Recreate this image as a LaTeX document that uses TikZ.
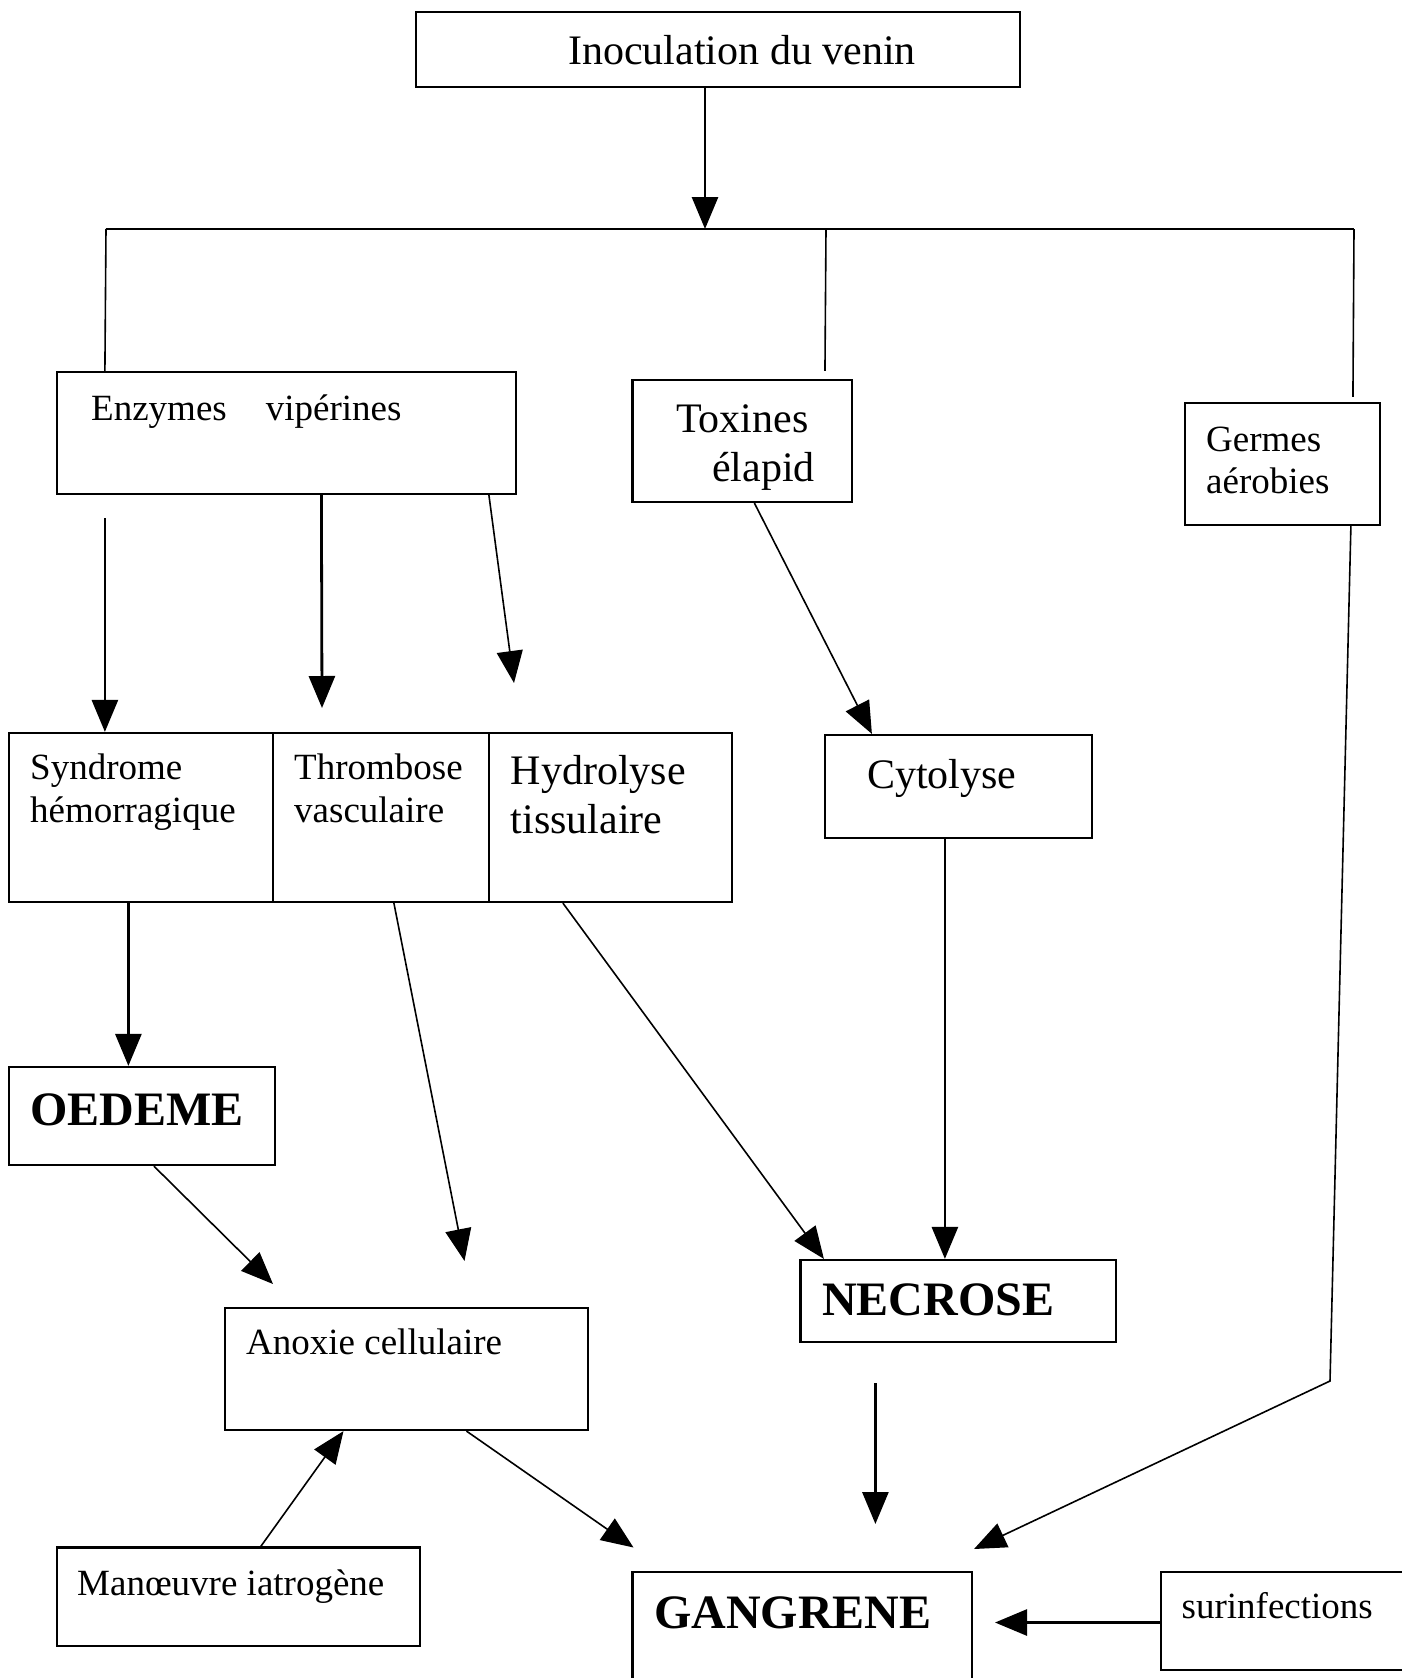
\documentclass[tikz,border=0pt]{standalone}
\usepackage{fontspec}
\setmainfont{Liberation Serif}
\usetikzlibrary{arrows.meta}
\begin{document}
\begin{tikzpicture}[x=1pt,y=-1pt,
  box/.style={draw, line width=2.2pt, inner sep=0pt},
  txt/.style={inner sep=0pt, anchor=base west, align=left},
  sm/.style={font=\fontsize{37}{43}\selectfont},
  lg/.style={font=\fontsize{42}{49}\selectfont},
  bigbf/.style={font=\fontsize{48}{56}\selectfont\bfseries},
  thk/.style={line width=2.8pt, -{Triangle[length=32pt,width=26pt]}},
  thn/.style={line width=1.6pt, -{Triangle[length=32pt,width=26pt]}},
  ln/.style={line width=1.6pt}]
\path[use as bounding box, clip] (0,0) rectangle (1402,1678);
\fill[white] (0,0) rectangle (1402,1678);

% boxes
\node[box, minimum width=604pt, minimum height=75pt] (inoc) at (718,49.5) {};
\node[box, minimum width=459pt, minimum height=122pt] (enz) at (286.5,433) {};
\node[box, minimum width=219.5pt, minimum height=122pt] (tox) at (742.25,441) {};
\node[box, minimum width=195pt, minimum height=122pt] (germ) at (1282.5,464) {};
\node[box, minimum width=264.4pt, minimum height=169pt] (synd) at (140.8,817.5) {};
\node[box, minimum width=216pt, minimum height=169pt] (thromb) at (381,817.5) {};
\node[box, minimum width=243pt, minimum height=169pt] (hydro) at (610.5,817.5) {};
\node[box, minimum width=267pt, minimum height=103pt] (cyto) at (958.5,786.5) {};
\node[box, minimum width=266.4pt, minimum height=98pt] (oed) at (141.8,1116) {};
\node[box, minimum width=315.5pt, minimum height=82pt] (necr) at (958.25,1301) {};
\node[box, minimum width=363pt, minimum height=122pt] (anox) at (406.1,1369) {};
\node[box, minimum width=363pt, minimum height=98.5pt] (man) at (238.1,1596.75) {};
\node[box, minimum width=339.2pt, minimum height=128pt] (gang) at (802.1,1636) {};
\node[box, minimum width=259pt, minimum height=98pt] (surinf) at (1290.5,1621) {};

% texts (multi-line nodes: anchor on the last line's baseline)
\node[txt, lg] (tinoc) at (568,64) {Inoculation du venin};
\node[txt, sm] (tenz) at (91,420) {Enzymes\hspace{39pt}vipérines};
\node[txt, lg] (ttox) at (676,481) {Toxines\\\hspace*{36pt}élapid};
\node[txt, font=\fontsize{37}{42}\selectfont] (tgerm) at (1206,493) {Germes\\aérobies};
\node[txt, sm] (tsynd) at (30,822) {Syndrome\\hémorragique};
\node[txt, sm] (tthromb) at (294,822) {Thrombose\\vasculaire};
\node[txt, lg] (thydro) at (510.5,833) {Hydrolyse\\tissulaire};
\node[txt, lg] (tcyto) at (867,788) {Cytolyse};
\node[txt, bigbf] (toed) at (30,1125) {OEDEME};
\node[txt, bigbf] (tnecr) at (822,1315) {NECROSE};
\node[txt, sm] (tanox) at (246,1354) {Anoxie cellulaire};
\node[txt, sm] (tman) at (77,1595) {Manœuvre iatrogène};
\node[txt, bigbf] (tgang) at (654,1628) {GANGRENE};
\node[txt, sm] (tsur) at (1181.5,1618) {surinfections};

% bus
\coordinate (busA) at (705,229);
\coordinate (busL) at (106,229);
\coordinate (busR) at (1354,229);
\coordinate (busT) at (826,229);
\draw[thk] ([xshift=-13pt]inoc.south) -- (busA);
\draw[ln] (busL) -- (busR);
\draw[ln] (busL) -- ([xshift=49pt]enz.north west);
\draw[ln, shorten >=8pt] (busT) -- ([xshift=193.5pt]tox.north west);
\draw[ln, shorten >=5pt] (busR) -- ([xshift=169pt]germ.north west);

% free ends
\coordinate (thtip) at (322,708);
\coordinate (hytip) at (514,683);
\coordinate (gc) at (1330,1381);
\coordinate (gtip) at (974,1549);
\coordinate (antip1) at (273,1284);
\coordinate (antip2) at (464.5,1261);
\coordinate (gtip2) at (633.5,1547.5);
\coordinate (ns) at (875.4,1383);
\coordinate (nt) at (875.4,1524);
\coordinate (stip) at (995,1622.5);

% connectors
\draw[thk, shorten <=23pt] ([xshift=49pt]enz.south west) -- ([xshift=97.4pt]synd.north west);
\draw[thk] ([xshift=265.5pt]enz.south west) -- (thtip);
\draw[thn] ([xshift=433pt]enz.south west) -- (hytip);
\draw[thn] ([xshift=123pt]tox.south west) -- ([xshift=48pt]cyto.north west);
\draw[thk] ([xshift=121pt]cyto.south west) -- ([xshift=145.5pt]necr.north west);
\draw[thn] ([xshift=167pt]germ.south west) -- (gc) -- (gtip);
\draw[thk] ([xshift=120.9pt]synd.south west) -- ([xshift=120.9pt]oed.north west);
\draw[thn] ([xshift=122pt]thromb.south west) -- (antip2);
\draw[thn] ([xshift=75pt]hydro.south west) -- ([xshift=24.5pt]necr.north west);
\draw[thn] ([xshift=146.4pt]oed.south west) -- (antip1);
\draw[thn] ([xshift=205.3pt]man.north west) -- ([xshift=120pt]anox.south west);
\draw[thn] ([xshift=243pt]anox.south west) -- (gtip2);
\draw[thk] (ns) -- (nt);
\draw[thk] (surinf.west |- stip) -- (stip);
\end{tikzpicture}
\end{document}
